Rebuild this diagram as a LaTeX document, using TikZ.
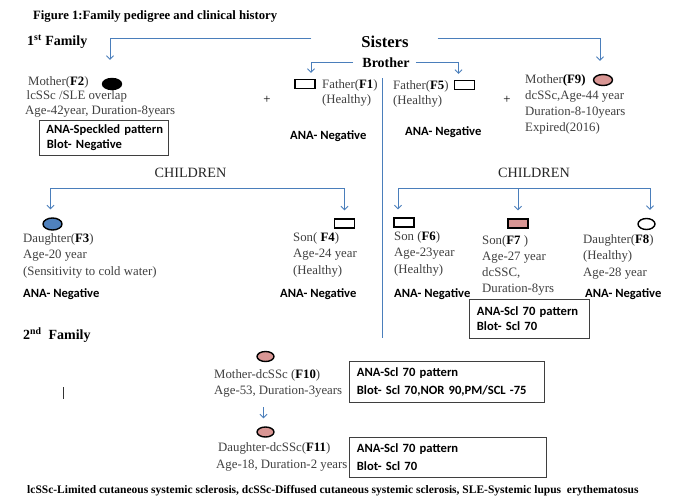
\documentclass[tikz,border=0pt]{standalone}
\usepackage{fontspec}
\setmainfont{Liberation Serif}
\newfontfamily\calibri{Carlito}
\usetikzlibrary{arrows.meta,shapes.geometric}
\definecolor{linkblue}{HTML}{4A7EBB}
\definecolor{txtgray}{HTML}{404040}
\definecolor{boxgray}{HTML}{3F3F3F}
\definecolor{rosefill}{HTML}{D99694}
\definecolor{bluefill}{HTML}{4F81BD}
\newcommand\famid[1]{\textcolor{black}{\textbf{#1}}}

\tikzset{
  txt/.style={anchor=north west, inner sep=0pt, align=left, text=txtgray,
    font=\fontsize{12.8}{16}\selectfont},
  ana/.style={anchor=west, inner sep=0pt, font=\calibri\bfseries\fontsize{12.6}{15}\selectfont},
  resbox/.style={draw=boxgray, line width=0.8pt, anchor=north west, align=left,
    inner ysep=0pt, inner xsep=7.5pt, font=\calibri\bfseries\fontsize{12.6}{16}\selectfont},
  male/.style={draw, line width=1.4pt, minimum width=20pt, minimum height=9pt, inner sep=0pt},
  female/.style={ellipse, draw, line width=1.4pt, minimum width=17pt, minimum height=10pt, inner sep=0pt},
  link/.style={draw=linkblue, line width=0.8pt},
  head/.style={inner sep=0pt, font=\bfseries\fontsize{14}{16}\selectfont},
}

\begin{document}
\begin{tikzpicture}[x=1pt, y=-1pt, >={Straight Barb[length=3.5pt,width=7pt]}]
  \fill[white] (0,0) rectangle (675,501);
  \useasboundingbox (0,0) rectangle (675,501);

  % headings
  \node[head, anchor=west, font=\bfseries\fontsize{12.7}{14}\selectfont] (title) at (33,16)
    {Figure 1:Family pedigree and clinical history};
  \node[head, anchor=west] (fam1) at (27,42) {1\textsuperscript{st} Family};
  \node[head, font=\bfseries\fontsize{16.6}{18}\selectfont] (sisters) at (385,42) {Sisters};
  \node[head] (brother) at (386,63) {Brother};

  % first family, parents
  \node[txt, font=\fontsize{12.8}{14.5}\selectfont] (f2) at (25,76)
    {\hspace{3pt}Mother(\famid{F2})\\\hspace{1.5pt}lcSSc /SLE overlap\\\resizebox{150pt}{\height}{Age-42year, Duration-8years}};
  \node[female, fill=black, minimum width=19pt, minimum height=11pt] (f2sym) at (112,84) {};
  \node[resbox, minimum width=129pt, minimum height=35pt, text width=123pt, inner xsep=3pt,
    font=\calibri\bfseries\fontsize{12.6}{15}\selectfont] (f2box) at (39,120)
    {\hspace{4pt}ANA-Speckled pattern\\\hspace{4.5pt}Blot- Negative};
  \node[inner sep=0pt, font=\fontsize{12.8}{14}\selectfont] (plus1) at (267,100) {+};
  \node[male] (f1sym) at (305,84) {};
  \node[txt, font=\fontsize{12.8}{15}\selectfont] (f1) at (322,79) {Father(\famid{F1})\\(Healthy)};
  \node[ana] (f1ana) at (290,136) {ANA- Negative};

  \node[txt, font=\fontsize{12.8}{15}\selectfont] (f5) at (393,80) {Father(\famid{F5})\\(Healthy)};
  \node[male] (f5sym) at (464.5,85) {};
  \node[ana] (f5ana) at (405,132) {ANA- Negative};
  \node[inner sep=0pt, font=\fontsize{12.8}{14}\selectfont] (plus2) at (507,100) {+};
  \node[txt] (f9) at (525,74)
    {Mother\famid{(F9)}\\dcSSc,Age-44 year\\Duration-8-10years\\Expired(2016)};
  \node[female, fill=rosefill, minimum width=19pt, minimum height=11pt] (f9sym) at (603,80) {};

  \draw[link,->] ([shift={(-50pt,4pt)}]sisters.west) -| ([shift={(-2pt,18pt)}]f2sym.north);
  \draw[link,->] ([shift={(29pt,4pt)}]sisters.east) -| ([shift={(-3pt,13pt)}]f9sym.north);
  \draw[link,->] ([shift={(-9pt,1pt)}]brother.west) -| ([shift={(6pt,6pt)}]f1sym.north);
  \draw[link,->] ([shift={(6pt,1pt)}]brother.east) -| ([shift={(-6pt,6pt)}]f5sym.north);
  \draw[link] (382,78) -- (382,338);

  % children
  \node[inner sep=0pt, text=black!85, font=\fontsize{14.2}{16}\selectfont] (childL) at (190.5,173) {CHILDREN};
  \node[inner sep=0pt, text=black!85, font=\fontsize{14.2}{16}\selectfont] (childR) at (534,173) {CHILDREN};

  \node[female, fill=bluefill, minimum width=19pt, minimum height=12pt] (f3sym) at (52.5,224) {};
  \node[txt, font=\fontsize{12.8}{16.5}\selectfont] (f3) at (23,233)
    {Daughter(\famid{F3})\\Age-20 year\\(Sensitivity to cold water)};
  \node[ana] (f3ana) at (23,294) {ANA- Negative};

  \node[male] (f4sym) at (344.5,223.5) {};
  \node[txt, font=\fontsize{12.8}{16.5}\selectfont] (f4) at (293,232)
    {Son( \famid{F4})\\Age-24 year\\(Healthy)};
  \node[ana] (f4ana) at (280,294) {ANA- Negative};

  \node[male] (f6sym) at (404,222.5) {};
  \node[txt, font=\fontsize{12.8}{16.5}\selectfont] (f6) at (394,231)
    {Son (\famid{F6})\\Age-23year\\(Healthy)};
  \node[ana] (f6ana) at (394,294) {ANA- Negative};

  \node[male, fill=rosefill] (f7sym) at (518,223.5) {};
  \node[txt] (f7) at (482,235) {Son(\famid{F7} )\\Age-27 year\\dcSSC,\\Duration-8yrs};
  \node[resbox, minimum width=120pt, minimum height=39pt, text width=105pt,
    font=\calibri\bfseries\fontsize{12.6}{15}\selectfont] (f7box) at (469,299)
    {ANA-Scl 70 pattern\\Blot- Scl 70};

  \node[female, minimum width=17pt, minimum height=11pt] (f8sym) at (646.5,224) {};
  \node[txt, font=\fontsize{12.8}{16.5}\selectfont] (f8) at (583,234)
    {Daughter(\famid{F8})\\(Healthy)\\Age-28 year};
  \node[ana] (f8ana) at (585,294) {ANA- Negative};

  \draw[link,<->] ([shift={(-2pt,8pt)}]f3sym.north) -- ++(0,-21) -| ([yshift=8pt]f4sym.north);
  \draw[link,<->] ([shift={(-6pt,8pt)}]f6sym.north) -- ++(0,-21) -| ([shift={(3.5pt,8pt)}]f8sym.north);
  \draw[link,->] ([yshift=29pt]f7sym.north) -- ([yshift=8pt]f7sym.north);

  % second family
  \node[head, anchor=west] (fam2) at (23,335) {2\textsuperscript{nd}\ \ Family};
  \draw[line width=0.7pt, black!80] (63,387) -- (63,399);

  \node[female, fill=rosefill] (f10sym) at (265.5,356.5) {};
  \node[txt] (f10) at (214,369) {Mother-dcSSc (\famid{F10})\\Age-53, Duration-3years};
  \node[resbox, minimum width=195pt, minimum height=41pt, text width=180pt,
    font=\calibri\bfseries\fontsize{12.6}{18}\selectfont] (f10box) at (349,361)
    {ANA-Scl 70 pattern\\Blot- Scl 70,NOR 90,PM/SCL -75};

  \node[female, fill=rosefill] (f11sym) at (265.5,432) {};
  \node[txt, font=\fontsize{12.8}{17}\selectfont] (f11) at (216,442)
    {\hspace{2pt}Daughter-dcSSc(\famid{F11})\\Age-18, Duration-2 years};
  \node[resbox, minimum width=197pt, minimum height=40pt, text width=182pt,
    font=\calibri\bfseries\fontsize{12.6}{18}\selectfont] (f11box) at (349,437)
    {ANA-Scl 70 pattern\\Blot- Scl 70};

  \draw[link,->] ([shift={(-2pt,19pt)}]f11sym.north) -- ([shift={(-2pt,8pt)}]f11sym.north);

  % abbreviations
  \node[anchor=west, inner sep=0pt, font=\bfseries\fontsize{11.5}{12}\selectfont] (abbrev) at (27,491)
    {lcSSc-Limited cutaneous systemic sclerosis, dcSSc-Diffused cutaneous systemic sclerosis, SLE-Systemic lupus\ \ erythematosus};
\end{tikzpicture}
\end{document}
